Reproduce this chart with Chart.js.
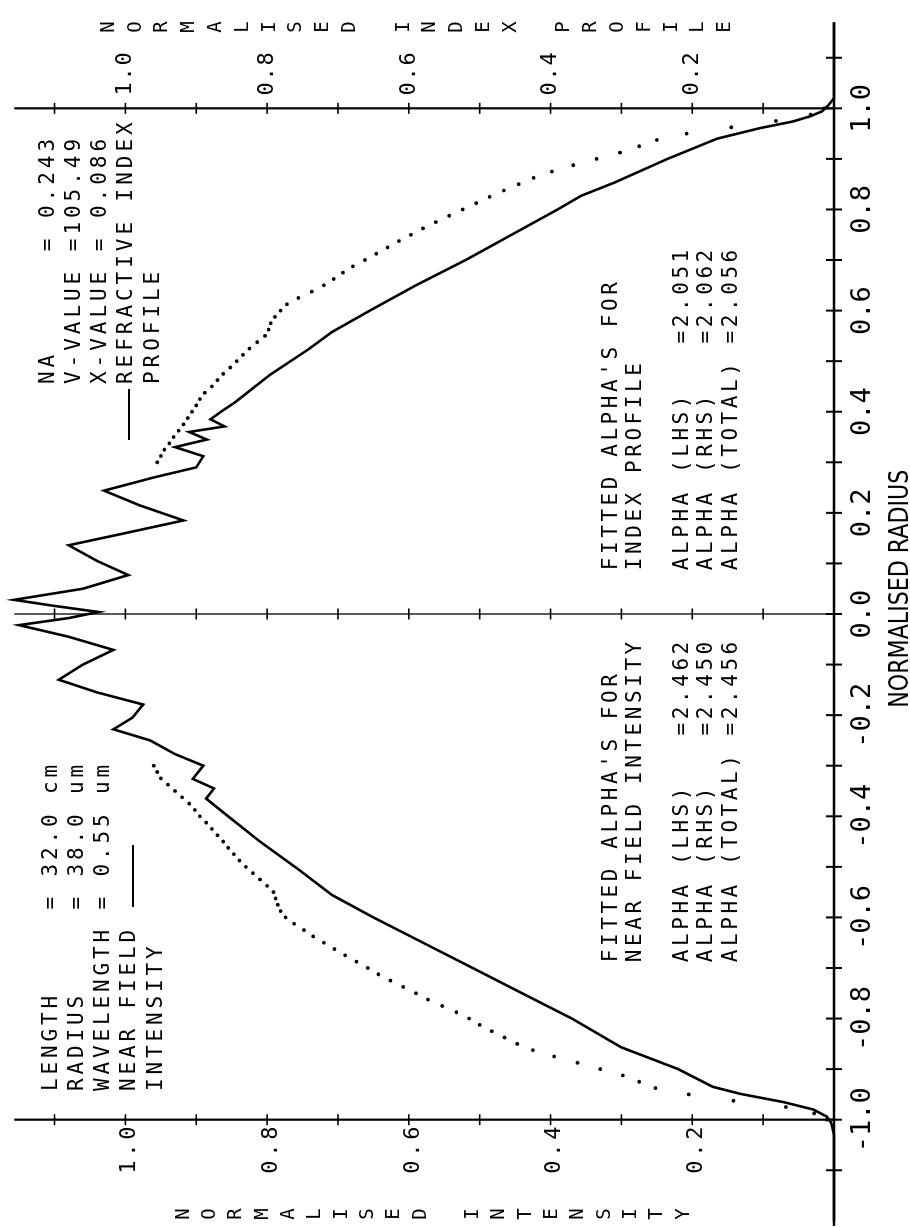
<!DOCTYPE html>
<html>
<head>
<meta charset="utf-8">
<script src="https://cdn.jsdelivr.net/npm/chart.js@4.4.0/dist/chart.umd.min.js"></script>
<style>
html, body { margin: 0; padding: 0; background: #fff; overflow: hidden; }
#page { position: absolute; left: 0; top: 0; width: 910px; height: 1227px; overflow: hidden; }
/* the plot is drawn landscape and turned a quarter turn, like the plotter sheet */
#sheet { position: absolute; left: 0; top: 0; width: 1227px; height: 910px;
         transform-origin: 0 0; transform: translate(0, 1227px) rotate(-90deg); }
</style>
</head>
<body>
<div id="page"><div id="sheet"><canvas id="profile" width="1227" height="910"></canvas></div></div>
<script>
const canvas = document.getElementById('profile')

// ---- data ----
const radiusTicks = ['-1.0', '-0.8', '-0.6', '-0.4', '-0.2', '0.0', '0.2', '0.4', '0.6', '0.8', '1.0']
const intensityTicks = ['0.2', '0.4', '0.6', '0.8', '1.0']
const indexTicks = ['0.2', '0.4', '0.6', '0.8', '1.0']

// near field intensity (solid)
const solidR = [-1.20, -1.03, -1.006, -0.994, -0.980, -0.965, -0.949, -0.935, -0.90, -0.857, -0.80, -0.75, -0.70, -0.65, -0.60, -0.556, -0.507, -0.45, -0.40,
  -0.365, -0.345, -0.326, -0.30, -0.277, -0.25, -0.228, -0.205, -0.179, -0.155, -0.130, -0.10, -0.071, -0.045, -0.022, -0.008, 0.004, 0.016, 0.028,
  0.05, 0.077, 0.105, 0.136, 0.16, 0.185, 0.215, 0.244, 0.27, 0.29, 0.312, 0.33, 0.345, 0.36, 0.371, 0.385, 0.40,
  0.42, 0.473, 0.525, 0.558, 0.60, 0.65, 0.70, 0.75, 0.80, 0.827, 0.853, 0.90, 0.94, 0.961, 0.974, 0.984, 0.994, 1.006, 1.02, 1.17]
const solidI = [0.0, 0.0, 0.004, 0.010, 0.029, 0.072, 0.132, 0.171, 0.22, 0.30, 0.37, 0.44, 0.51, 0.58, 0.65, 0.708, 0.754, 0.810, 0.855,
  0.886, 0.875, 0.905, 0.89, 0.93, 0.965, 1.017, 0.99, 0.975, 1.04, 1.094, 1.06, 1.017, 1.08, 1.15, 1.08, 1.038, 1.10, 1.157,
  1.06, 0.996, 1.04, 1.08, 1.00, 0.918, 0.98, 1.03, 0.96, 0.90, 0.89, 0.93, 0.885, 0.91, 0.86, 0.88, 0.865,
  0.844, 0.796, 0.74, 0.708, 0.655, 0.59, 0.52, 0.455, 0.39, 0.357, 0.31, 0.235, 0.165, 0.104, 0.058, 0.034, 0.017, 0.008, 0.0, 0.0]

// the dotted profile
const dotR = [
  -1.0, -0.9875, -0.975, -0.9625, -0.95, -0.9375, -0.925, -0.9125, -0.90, -0.8875, -0.875, -0.8625, -0.85, -0.8375, -0.825, -0.8125, -0.80, -0.7875, -0.775,
  -0.7625, -0.75, -0.7375, -0.725, -0.7125, -0.70, -0.6875, -0.675, -0.6625, -0.65, -0.6375, -0.625, -0.6125, -0.60, -0.5875, -0.575, -0.5625, -0.55, -0.5375,
  -0.525, -0.5125, -0.50, -0.4875, -0.475, -0.4625, -0.45, -0.4375, -0.425, -0.4125, -0.40, -0.3875, -0.375, -0.3625, -0.35, -0.3375, -0.325, -0.3125, -0.30,
  0.30, 0.3125, 0.325, 0.3375, 0.35, 0.3625, 0.375, 0.3875, 0.40, 0.4125, 0.425, 0.4375, 0.45, 0.4625, 0.475, 0.4875, 0.50, 0.5125, 0.525, 0.5375,
  0.55, 0.5625, 0.575, 0.5875, 0.60, 0.6125, 0.625, 0.6375, 0.65, 0.6625, 0.675, 0.6875, 0.70, 0.7125, 0.725, 0.7375, 0.75, 0.7625, 0.775, 0.7875,
  0.80, 0.8125, 0.825, 0.8375, 0.85, 0.8625, 0.875, 0.8875, 0.90, 0.9125, 0.925, 0.9375, 0.95, 0.9625, 0.975, 0.9875, 1.0]
const dotI = [
  0.010, 0.028, 0.068, 0.142, 0.205, 0.252, 0.275, 0.298, 0.330, 0.362, 0.395, 0.425, 0.447, 0.465, 0.483, 0.500, 0.515, 0.533, 0.553,
  0.573, 0.590, 0.608, 0.626, 0.643, 0.658, 0.674, 0.690, 0.705, 0.720, 0.735, 0.748, 0.762, 0.774, 0.781, 0.785, 0.788, 0.791, 0.800,
  0.810, 0.820, 0.830, 0.839, 0.847, 0.855, 0.862, 0.870, 0.878, 0.886, 0.895, 0.902, 0.910, 0.920, 0.930, 0.940, 0.950, 0.955, 0.960,
  0.955, 0.950, 0.945, 0.938, 0.932, 0.925, 0.918, 0.912, 0.906, 0.900, 0.895, 0.888, 0.878, 0.870, 0.862, 0.852, 0.843, 0.834, 0.825, 0.814,
  0.803, 0.798, 0.795, 0.789, 0.781, 0.772, 0.756, 0.737, 0.720, 0.706, 0.693, 0.679, 0.662, 0.646, 0.630, 0.614, 0.597, 0.580, 0.562, 0.543,
  0.524, 0.505, 0.486, 0.466, 0.445, 0.424, 0.398, 0.368, 0.335, 0.302, 0.275, 0.250, 0.208, 0.145, 0.082, 0.033, 0.014]

// ---- text on the sheet ----
const leftBlock = ['LENGTH     = 32.0 cm', 'RADIUS     = 38.0 um', 'WAVELENGTH = 0.55 um', 'NEAR FIELD', 'INTENSITY']
const rightBlock = ['NA      = 0.243', 'V-VALUE =105.49', 'X-VALUE = 0.086', 'REFRACTIVE INDEX', 'PROFILE']
const fitIndex = ["FITTED ALPHA'S FOR", 'INDEX PROFILE', 'ALPHA (LHS)   =2.051', 'ALPHA (RHS)   =2.062', 'ALPHA (TOTAL) =2.056']
const fitField = ["FITTED ALPHA'S FOR", 'NEAR FIELD INTENSITY', 'ALPHA (LHS)   =2.462', 'ALPHA (RHS)   =2.450', 'ALPHA (TOTAL) =2.456']

const pairs = (xs, ys) => xs.map((x, i) => ({ x: x, y: ys[i] }))

const MONO = '"DejaVu Sans Mono", "Liberation Mono", monospace'

// one character at a time, fixed pitch, like the pen plotter
function plotText(ctx, str, x, yMid, pitch, size) {
    ctx.font = size + 'px ' + MONO
    ctx.textAlign = 'center'
    ctx.textBaseline = 'alphabetic'
    for (let i = 0; i < str.length; i++) {
        ctx.fillText(str[i], x + pitch * (i + 0.5), yMid + size * 0.36)
    }
}

function stackText(ctx, str, x, y0, step, size) {
    ctx.font = size + 'px ' + MONO
    ctx.textAlign = 'center'
    ctx.textBaseline = 'alphabetic'
    for (let i = 0; i < str.length; i++) {
        ctx.fillText(str[i], x, y0 + step * i + size * 0.36)
    }
}

const plotterAxes = {
    id: 'plotterAxes',
    beforeDatasetsDraw(chart) {
        const ctx = chart.ctx
        const xs = chart.scales.x
        const ys = chart.scales.y
        const y0 = ys.getPixelForValue(0)
        ctx.save()
        ctx.strokeStyle = '#000'
        ctx.lineCap = 'butt'

        // radius axis
        ctx.lineWidth = 2.5
        ctx.beginPath()
        ctx.moveTo(xs.getPixelForValue(-1.21), y0)
        ctx.lineTo(xs.getPixelForValue(1.17), y0)
        ctx.stroke()
        ctx.lineWidth = 2
        for (let k = -11; k <= 11; k++) {
            const px = xs.getPixelForValue(k / 10)
            ctx.beginPath()
            ctx.moveTo(px, y0 - 8)
            ctx.lineTo(px, y0 + 8)
            ctx.stroke()
        }

        // uprights at -1, 0 and +1
        const uprights = [[-1, 2.2], [0, 1.3], [1, 2.2]]
        uprights.forEach(([r, w]) => {
            const px = xs.getPixelForValue(r)
            ctx.lineWidth = w
            ctx.beginPath()
            ctx.moveTo(px, y0)
            ctx.lineTo(px, ys.getPixelForValue(1.157))
            ctx.stroke()
            ctx.lineWidth = 1.6
            for (let k = 1; k <= 11; k++) {
                const py = ys.getPixelForValue(k / 10)
                ctx.beginPath()
                ctx.moveTo(px - 5.5, py)
                ctx.lineTo(px + 5.5, py)
                ctx.stroke()
            }
        })
        ctx.restore()
    },
    afterDraw(chart) {
        const ctx = chart.ctx
        const xs = chart.scales.x
        const ys = chart.scales.y
        ctx.save()
        ctx.fillStyle = '#000'
        ctx.strokeStyle = '#000'

        // radius tick labels
        radiusTicks.forEach(t => {
            const px = xs.getPixelForValue(parseFloat(t))
            ctx.font = '27px ' + MONO
            ctx.textAlign = 'center'
            ctx.textBaseline = 'alphabetic'
            ctx.fillText(t, px, 870)
        })
        // radius title, condensed
        ctx.save()
        ctx.translate(xs.getPixelForValue(0.05), 908)
        ctx.scale(0.82, 1)
        ctx.font = '27px "DejaVu Sans", sans-serif'
        ctx.textAlign = 'center'
        ctx.fillText('NORMALISED RADIUS', 0, 0)
        ctx.restore()

        // intensity labels on the left upright, index labels on the right one
        const left = xs.getPixelForValue(-1)
        const right = xs.getPixelForValue(1)
        intensityTicks.forEach(t => {
            const py = ys.getPixelForValue(parseFloat(t))
            plotText(ctx, t, left - 5 - 3 * 17, py + 2, 17, 22)
        })
        indexTicks.forEach(t => {
            const py = ys.getPixelForValue(parseFloat(t))
            plotText(ctx, t, right + 12, py - 2, 15, 22)
        })

        // stacked axis titles
        stackText(ctx, 'NORMALISED INTENSITY', 13, 182, 26.3, 19)
        stackText(ctx, 'NORMALISED INDEX PROFILE', 1200, 107, 26.8, 19)

        // parameter blocks
        const rowsL = [49, 75, 101, 127, 154]
        leftBlock.forEach((s, i) => plotText(ctx, s, 134, rowsL[i], 16.5, 21))
        ctx.lineWidth = 2
        ctx.beginPath()
        ctx.moveTo(320, rowsL[3] + 6)
        ctx.lineTo(382, rowsL[3] + 6)
        ctx.stroke()

        const rowsR = [46, 72, 98, 124, 151]
        rightBlock.forEach((s, i) => plotText(ctx, s, 841, rowsR[i], 16.6, 21))
        ctx.beginPath()
        ctx.moveTo(787, rowsR[3] + 5)
        ctx.lineTo(838, rowsR[3] + 5)
        ctx.stroke()

        const rowsF = [609, 633, 680, 704, 729]
        fitIndex.forEach((s, i) => plotText(ctx, s, 655, rowsF[i], 16.2, 21))
        fitField.forEach((s, i) => plotText(ctx, s, 263, rowsF[i], 16.2, 21))
        ctx.restore()
    }
}

const profileChart = new Chart(canvas, {
    type: 'scatter',
    data: {
        datasets: [{
            label: 'near field intensity',
            data: pairs(solidR, solidI),
            showLine: true,
            borderColor: '#000',
            borderWidth: 2.6,
            pointRadius: 0,
            tension: 0,
            clip: false
        }, {
            label: 'profile',
            data: pairs(dotR, dotI),
            showLine: false,
            pointRadius: 1.9,
            pointBorderWidth: 0,
            pointBackgroundColor: '#000',
            clip: false
        }]
    },
    plugins: [plotterAxes],
    options: {
        responsive: false,
        animation: false,
        events: [],
        layout: { padding: { left: 0, right: 0, top: 0, bottom: 76 } },
        scales: {
            x: { type: 'linear', min: -1.2043, max: 1.2063, display: false },
            y: { type: 'linear', min: 0, max: 1.1713, display: false }
        },
        plugins: {
            legend: { display: false },
            tooltip: { enabled: false }
        }
    }
})
</script>
</body>
</html>
